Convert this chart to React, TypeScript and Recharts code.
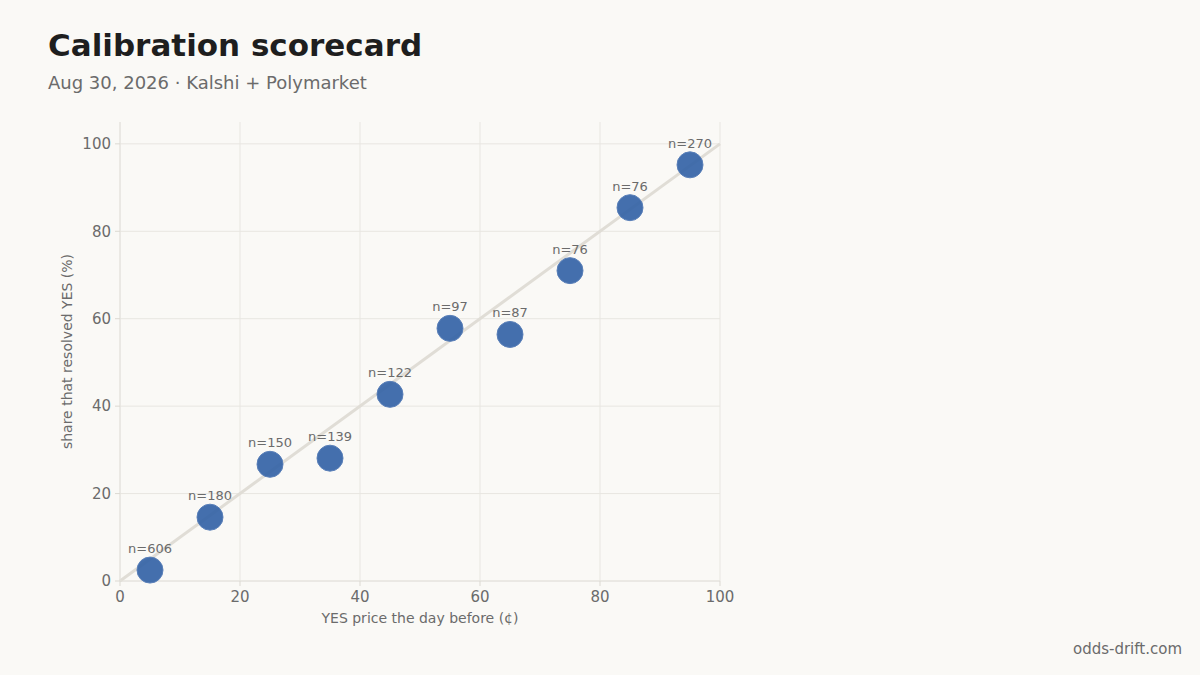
import { CartesianGrid, ReferenceLine, Scatter, ScatterChart, XAxis, YAxis } from "recharts";

const priceBins = [5, 15, 25, 35, 45, 55, 65, 75, 85, 95];
const resolvedYes = [2.5, 14.6, 26.7, 28.1, 42.7, 57.8, 56.4, 71.0, 85.4, 95.2];
const counts = [606, 180, 150, 139, 122, 97, 87, 76, 76, 270];
const ticks = [0, 20, 40, 60, 80, 100];

const data = priceBins.map((x, i) => ({ x, y: resolvedYes[i], n: counts[i] }));

const FONT = "'DejaVu Sans', Verdana, sans-serif";
const MUTED = "#6b6b6b";
const RULE = "#e4e2dc";

function Dot(props: any) {
  const { cx, cy, payload } = props;
  return (
    <g>
      <circle cx={cx} cy={cy} r={13} fill="#3463a6" fillOpacity={0.92} stroke="#5a80b9" strokeWidth={1} />
      <text x={cx} y={cy - 17} textAnchor="middle" fontSize={13} fill={MUTED} fontFamily={FONT}>
        n={payload.n}
      </text>
    </g>
  );
}

export default function App() {
  return (
    <div
      style={{
        position: "fixed",
        left: 0,
        top: 0,
        width: 1200,
        height: 675,
        background: "#faf9f6",
        fontFamily: FONT,
        overflow: "hidden",
      }}
    >
      <div style={{ position: "absolute", left: 48, top: 27, fontSize: 31, fontWeight: 700, color: "#1e1e1e" }}>
        Calibration scorecard
      </div>
      <div style={{ position: "absolute", left: 48, top: 72, fontSize: 18, color: MUTED }}>
        Aug 30, 2026 · Kalshi + Polymarket
      </div>

      <ScatterChart
        width={1200}
        height={675}
        margin={{ top: 122, right: 480, bottom: 44, left: 60 }}
        style={{ position: "absolute", left: 0, top: 0 }}
      >
        <CartesianGrid stroke="#e8e6e1" strokeWidth={1} horizontalValues={ticks} verticalValues={ticks} />
        <XAxis
          type="number"
          dataKey="x"
          domain={[0, 100]}
          ticks={ticks}
          height={50}
          tick={{ fill: MUTED, fontSize: 15, fontFamily: FONT }}
          tickSize={5}
          tickMargin={5}
          tickLine={{ stroke: "#dcd9d2" }}
          axisLine={{ stroke: RULE }}
          label={{
            value: "YES price the day before (¢)",
            position: "insideBottom",
            offset: 8,
            fill: MUTED,
            fontSize: 14,
            fontFamily: FONT,
          }}
        />
        <YAxis
          type="number"
          dataKey="y"
          domain={[0, 105]}
          ticks={ticks}
          width={60}
          tick={{ fill: MUTED, fontSize: 15, fontFamily: FONT }}
          tickSize={5}
          tickMargin={4}
          tickLine={{ stroke: "#dcd9d2" }}
          axisLine={{ stroke: RULE }}
          label={{
            value: "share that resolved YES (%)",
            angle: -90,
            position: "insideLeft",
            offset: 7,
            style: { textAnchor: "middle" },
            fill: MUTED,
            fontSize: 14,
            fontFamily: FONT,
          }}
        />
        <ReferenceLine
          segment={[
            { x: 0, y: 0 },
            { x: 100, y: 100 },
          ]}
          stroke="#e0ddd6"
          strokeWidth={3}
        />
        <Scatter data={data} shape={Dot} isAnimationActive={false} />
      </ScatterChart>

      <div style={{ position: "absolute", right: 18, top: 640, fontSize: 15, color: MUTED }}>odds-drift.com</div>
    </div>
  );
}
